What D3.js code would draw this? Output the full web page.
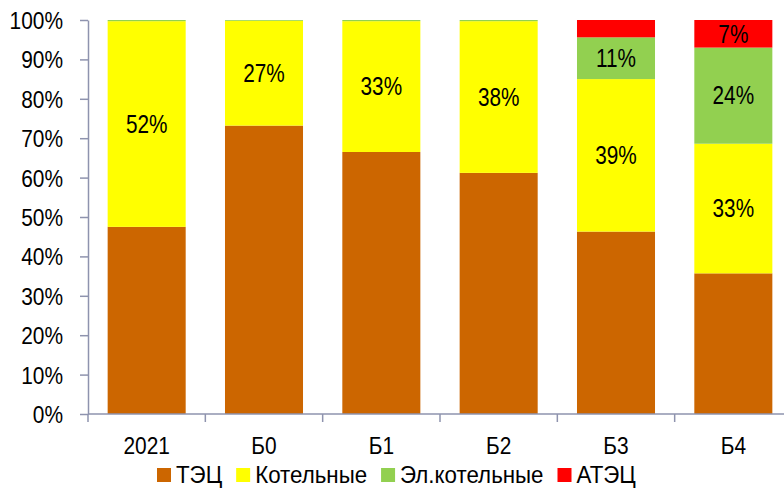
<!DOCTYPE html>
<html><head><meta charset="utf-8">
<script src="https://cdn.jsdelivr.net/npm/d3@7"></script>
<style>html,body{margin:0;padding:0;background:#fff;}svg{display:block;}</style>
</head><body>
<svg id="chart" width="784" height="488"></svg>
<script>
const categories = ["2021", "Б0", "Б1", "Б2", "Б3", "Б4"];
const seriesNames = ["ТЭЦ", "Котельные", "Эл.котельные", "АТЭЦ"];
const tec = [47.5, 73.2, 66.5, 61.2, 46.3, 35.7];
const kotelnye = [52.2, 26.6, 33.2, 38.5, 38.7, 32.9];
const elKotelnye = [0.3, 0.2, 0.3, 0.3, 10.6, 24.4];
const atec = [0, 0, 0, 0, 4.4, 7.0];
const labelsKotelnye = ["52%", "27%", "33%", "38%", "39%", "33%"];
const labelsEl = ["", "", "", "", "11%", "24%"];
const labelsAtec = ["", "", "", "", "", "7%"];
const yTicks = [0, 10, 20, 30, 40, 50, 60, 70, 80, 90, 100];
const colors = ["#CC6600", "#FFFF00", "#92D050", "#FF0000"];

const FONT = "'Liberation Sans', Arial, sans-serif";
const FS = "24px";
const SX = 0.87;
const SXL = 0.93;
const svg = d3.select("#chart");
const mLeft = 88, mRight = 792, mTop = 20, mBottom = 414;
const axisColor = "#8E93AE";

function narrowText(sel, anchor) {
  sel.style("font-family", FONT).style("font-size", FS).attr("fill", "#000")
    .attr("text-anchor", anchor).attr("dy", "0.35em");
}

const rows = categories.map((c, i) => ({cat: c, s0: tec[i], s1: kotelnye[i], s2: elKotelnye[i], s3: atec[i]}));
const stack = d3.stack().keys(["s0", "s1", "s2", "s3"]);
const stacked = stack(rows);
const labelSets = [null, labelsKotelnye, labelsEl, labelsAtec];

const x = d3.scaleBand().domain(categories).range([mLeft, mRight]).paddingInner(0.335).paddingOuter(0.1675);
const y = d3.scaleLinear().domain([0, 100]).range([mBottom, mTop]);

stacked.forEach((layer, li) => {
  svg.append("g").selectAll("rect").data(layer).join("rect")
    .attr("x", d => x(d.data.cat))
    .attr("width", x.bandwidth())
    .attr("y", d => y(d[1]))
    .attr("height", d => Math.max(0, y(d[0]) - y(d[1])))
    .attr("fill", colors[li]);
});

stacked.forEach((layer, li) => {
  if (!labelSets[li]) return;
  svg.append("g").selectAll("text").data(layer).join("text")
    .attr("transform", d => `translate(${x(d.data.cat) + x.bandwidth() / 2},${(y(d[0]) + y(d[1])) / 2}) scale(0.83,1)`)
    .call(narrowText, "middle")
    .style("font-size", "25px")
    .text((d, i) => labelSets[li][i]);
});

const yAxis = svg.append("g").attr("transform", `translate(${mLeft},0)`)
  .call(d3.axisLeft(y).tickValues(yTicks).tickFormat(d => d + "%").tickSizeInner(8).tickSizeOuter(0).tickPadding(10));
yAxis.selectAll("line,path").attr("stroke", axisColor).attr("stroke-width", 1.5);
yAxis.selectAll("text").attr("x", null).attr("transform", `translate(-25,0) scale(${SX},1)`)
  .call(narrowText, "end");

const xAxisG = svg.append("g").attr("transform", `translate(0,${mBottom})`);
xAxisG.append("line").attr("x1", mLeft).attr("x2", 784).attr("y1", 0).attr("y2", 0).attr("stroke", axisColor).attr("stroke-width", 1.5);
const step = x.step();
const boundaries = d3.range(categories.length).map(i => mLeft + i * step);
xAxisG.selectAll(".tk").data(boundaries).join("line")
  .attr("x1", d => d).attr("x2", d => d).attr("y1", 0).attr("y2", 8)
  .attr("stroke", axisColor).attr("stroke-width", 1.5);
xAxisG.selectAll("text").data(categories).join("text")
  .attr("transform", d => `translate(${x(d) + x.bandwidth() / 2},32) scale(${SX},1)`)
  .call(narrowText, "middle")
  .text(d => d);

const lg = svg.append("g").attr("transform", "translate(157,475)");
let cx = 0;
seriesNames.forEach((name, i) => {
  lg.append("rect").attr("x", cx).attr("y", -7).attr("width", 14).attr("height", 14).attr("fill", colors[i]);
  const t = lg.append("text").attr("transform", `translate(${cx + 19},0) scale(${SXL},1)`)
    .call(narrowText, "start").text(name);
  cx += 19 + t.node().getComputedTextLength() * SXL + 14;
});
</script>
</body></html>
